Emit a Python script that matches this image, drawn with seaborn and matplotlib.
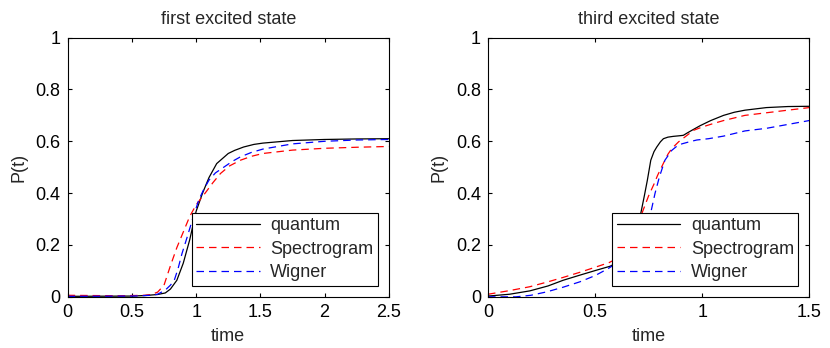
import matplotlib
matplotlib.use('Agg')
import matplotlib.pyplot as plt
import numpy as np
import seaborn as sns

sns.set_style("ticks")
plt.rcParams['font.family'] = ['Liberation Sans', 'DejaVu Sans']

# first excited state
t1_quantum = [0, 0.5, 0.6, 0.65, 0.7, 0.76, 0.8, 0.85, 0.9, 0.95, 1.0, 1.05, 1.1, 1.16, 1.25, 1.3, 1.37, 1.45,
              1.52, 1.75, 2.0, 2.25, 2.5]
p1_quantum = [0.002, 0.003, 0.005, 0.007, 0.009, 0.015, 0.03, 0.064, 0.13, 0.22, 0.33, 0.40, 0.46, 0.514, 0.553,
              0.565, 0.578, 0.588, 0.593, 0.603, 0.607, 0.609, 0.61]
t1_spectro = [0, 0.2, 0.4, 0.6, 0.65, 0.7, 0.75, 0.8, 0.85, 0.9, 0.95, 1.0, 1.07, 1.13, 1.19, 1.26, 1.345, 1.43,
              1.52, 1.75, 2.0, 2.25, 2.5]
p1_spectro = [0.006, 0.005, 0.004, 0.006, 0.009, 0.018, 0.045, 0.12, 0.19, 0.25, 0.31, 0.355, 0.40, 0.44, 0.476,
              0.505, 0.527, 0.542, 0.553, 0.566, 0.573, 0.577, 0.58]
t1_wigner = [0, 0.5, 0.65, 0.7, 0.76, 0.8, 0.83, 0.86, 0.89, 0.93, 0.97, 1.02, 1.06, 1.10, 1.15, 1.215, 1.28,
             1.345, 1.43, 1.52, 1.75, 2.0, 2.25, 2.5]
p1_wigner = [0.002, 0.003, 0.006, 0.01, 0.026, 0.045, 0.064, 0.11, 0.167, 0.23, 0.296, 0.373, 0.415, 0.45, 0.478,
             0.50, 0.522, 0.54, 0.557, 0.57, 0.59, 0.60, 0.605, 0.607]

# third excited state
t3_quantum = [0, 0.1, 0.195, 0.28, 0.351, 0.43, 0.507, 0.57, 0.62, 0.66, 0.69, 0.714, 0.73, 0.744, 0.76, 0.775,
              0.788, 0.805, 0.819, 0.84, 0.865, 0.89, 0.912, 0.93, 0.951, 0.99, 1.04, 1.1, 1.15, 1.2, 1.3, 1.4, 1.5]
p3_quantum = [0.003, 0.01, 0.023, 0.042, 0.064, 0.084, 0.103, 0.118, 0.14, 0.18, 0.24, 0.325, 0.39, 0.45, 0.527,
              0.56, 0.578, 0.598, 0.61, 0.616, 0.619, 0.621, 0.623, 0.632, 0.642, 0.66, 0.68, 0.70, 0.712, 0.72,
              0.73, 0.734, 0.735]
t3_spectro = [0, 0.1, 0.195, 0.28, 0.351, 0.43, 0.507, 0.565, 0.62, 0.67, 0.70, 0.72, 0.75, 0.775, 0.792, 0.81,
              0.826, 0.84, 0.858, 0.89, 0.92, 0.959, 1.0, 1.05, 1.1, 1.2, 1.3, 1.4, 1.5]
p3_spectro = [0.01, 0.024, 0.039, 0.058, 0.075, 0.095, 0.116, 0.132, 0.155, 0.2, 0.26, 0.325, 0.39, 0.435, 0.469,
              0.5, 0.527, 0.55, 0.572, 0.598, 0.617, 0.642, 0.655, 0.668, 0.68, 0.70, 0.71, 0.72, 0.73]
t3_wigner = [0, 0.13, 0.2, 0.273, 0.35, 0.429, 0.5, 0.561, 0.62, 0.68, 0.72, 0.76, 0.78, 0.80, 0.826, 0.858, 0.88,
             0.905, 0.94, 0.975, 1.03, 1.1, 1.2, 1.3, 1.4, 1.5]
p3_wigner = [0.0, 0.0, 0.006, 0.019, 0.037, 0.058, 0.082, 0.109, 0.14, 0.19, 0.24, 0.325, 0.4, 0.462, 0.527, 0.565,
             0.58, 0.59, 0.598, 0.605, 0.61, 0.62, 0.64, 0.65, 0.665, 0.68]

titles = ['first excited state', 'third excited state']
labels = ['quantum', 'Spectrogram', 'Wigner']
xmax = [2.5, 1.5]
xticks = [[0, 0.5, 1, 1.5, 2, 2.5], [0, 0.5, 1, 1.5]]
yticks = [0, 0.2, 0.4, 0.6, 0.8, 1]

panels = [
    [(t1_quantum, p1_quantum), (t1_spectro, p1_spectro), (t1_wigner, p1_wigner)],
    [(t3_quantum, p3_quantum), (t3_spectro, p3_spectro), (t3_wigner, p3_wigner)],
]
colors = ['black', 'red', 'blue']
styles = ['-', (0, (6, 4)), (0, (6, 4))]

fs = 13
fig = plt.figure(figsize=(8.3, 3.48), dpi=100)
lefts = [0.0815, 0.588]

for i in range(2):
    ax = fig.add_axes([lefts[i], 0.147, 0.387, 0.745])
    for (t, p), c, ls, lab in zip(panels[i], colors, styles, labels):
        sns.lineplot(x=t, y=p, ax=ax, color=c, linestyle=ls, linewidth=0.9, label=lab)
    ax.set_xlim(0, xmax[i])
    ax.set_ylim(0, 1)
    ax.set_xticks(xticks[i])
    ax.set_xticklabels([('%g' % v) for v in xticks[i]])
    ax.set_yticks(yticks)
    ax.set_yticklabels([('%g' % v) for v in yticks])
    ax.tick_params(direction='in', length=3, width=0.8, top=True, right=True,
                   labelsize=fs, pad=5, colors='black')
    for s in ax.spines.values():
        s.set_linewidth(0.8)
        s.set_color('black')
    ax.set_title(titles[i], fontsize=fs, pad=9.5)
    ax.set_xlabel('time', fontsize=fs, labelpad=5)
    ax.set_ylabel('P(t)', fontsize=fs, labelpad=6)
    leg = ax.legend(loc='lower right', fontsize=fs, handlelength=3.5, fancybox=False,
                    framealpha=1, edgecolor='black', borderaxespad=0.6,
                    labelspacing=0.37, borderpad=0.25, handletextpad=0.6)
    leg.get_frame().set_linewidth(0.8)

fig.savefig('out.png', dpi=100)
